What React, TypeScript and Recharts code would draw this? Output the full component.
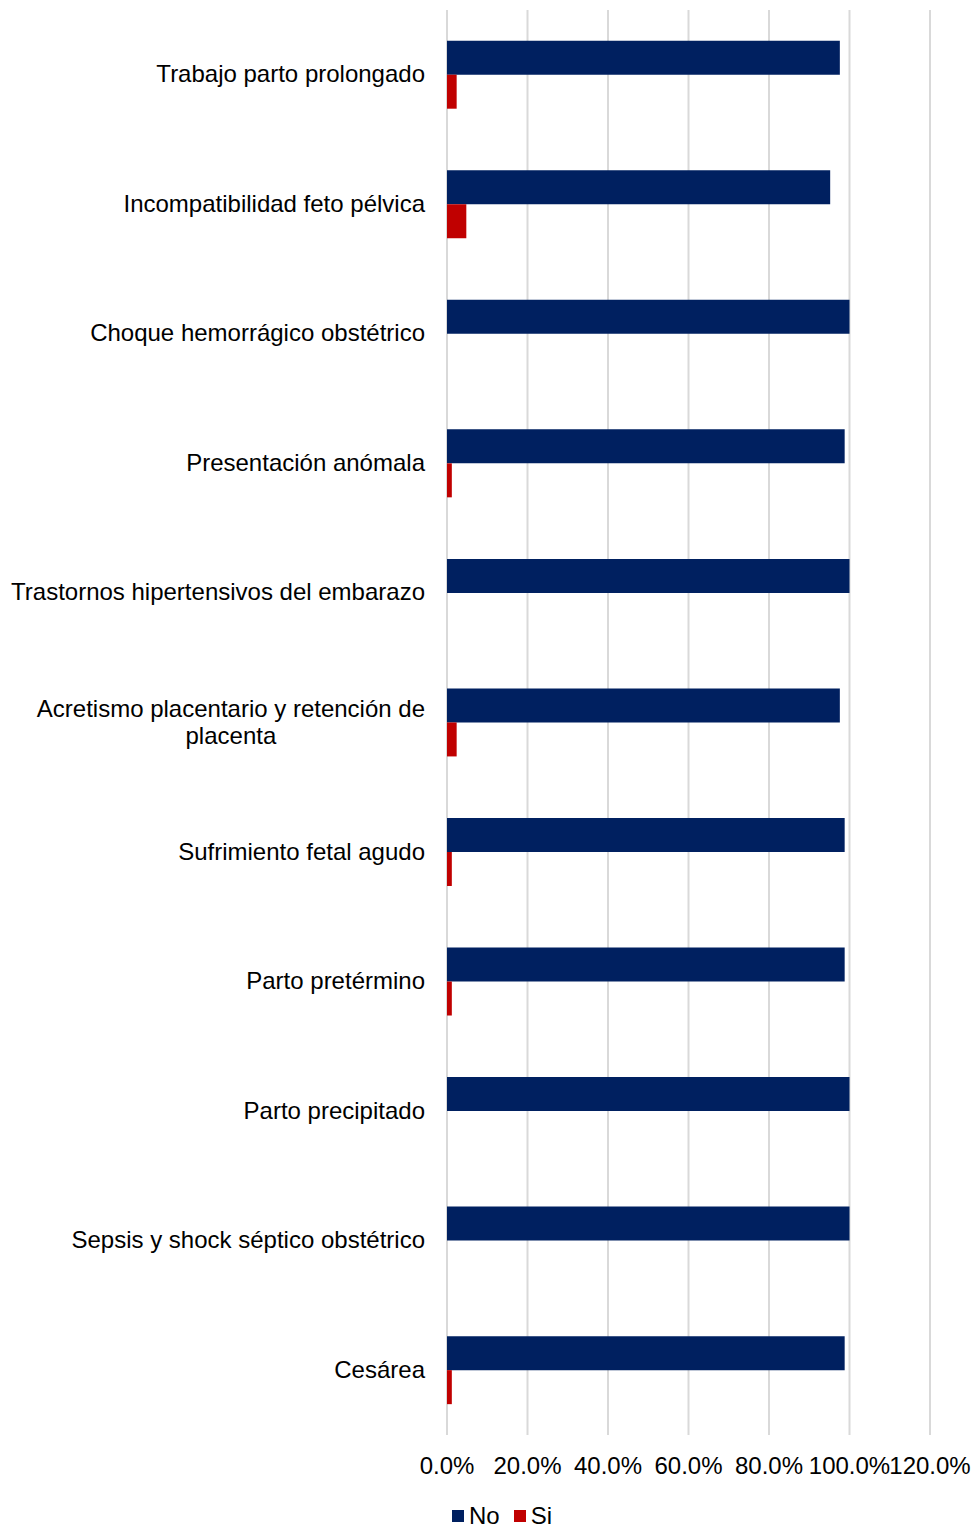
import React from "react";
import {
  BarChart,
  Bar,
  XAxis,
  YAxis,
  CartesianGrid,
  Legend,
} from "recharts";

const categories = [
  "Trabajo parto prolongado",
  "Incompatibilidad feto pélvica",
  "Choque hemorrágico obstétrico",
  "Presentación anómala",
  "Trastornos hipertensivos del embarazo",
  "Acretismo placentario y retención de placenta",
  "Sufrimiento fetal agudo",
  "Parto pretérmino",
  "Parto precipitado",
  "Sepsis y shock séptico obstétrico",
  "Cesárea",
];

const noValues = [0.976, 0.952, 1.0, 0.988, 1.0, 0.976, 0.988, 0.988, 1.0, 1.0, 0.988];
const siValues = [0.024, 0.048, 0.0, 0.012, 0.0, 0.024, 0.012, 0.012, 0.0, 0.0, 0.012];

const xTicks = [0, 0.2, 0.4, 0.6, 0.8, 1.0, 1.2];

const FONT = "'Liberation Sans', Arial, sans-serif";
const FS = 24;
const NAVY = "#002060";
const RED = "#C00000";

const data = categories.map((name, i) => ({
  name,
  No: noValues[i],
  Si: siValues[i],
}));

// wrap long category names the way the spreadsheet does
const MAX_LABEL = 430;
let ctx: CanvasRenderingContext2D | null = null;
const measure = (s: string) => {
  if (!ctx) ctx = document.createElement("canvas").getContext("2d");
  if (!ctx) return s.length * 12;
  ctx.font = `${FS}px ${FONT}`;
  return ctx.measureText(s).width;
};

const wrapLabel = (s: string) => {
  const words = s.split(" ");
  const lines: string[] = [];
  let cur = "";
  words.forEach((w) => {
    const next = cur ? cur + " " + w : w;
    if (measure(next) > MAX_LABEL && cur) {
      lines.push(cur);
      cur = w;
    } else cur = next;
  });
  if (cur) lines.push(cur);
  return lines;
};

const CategoryTick = (props: any) => {
  const { x, y, payload } = props;
  const lines = wrapLabel(payload.value);
  const right = x;
  if (lines.length === 1) {
    return (
      <text x={right} y={y - 1} textAnchor="end" dominantBaseline="central" fontSize={FS} fontFamily={FONT} fill="#000">
        {lines[0]}
      </text>
    );
  }
  const w = Math.max(...lines.map(measure));
  const cx = right - w / 2;
  const lh = 27;
  const top = y - 1 - ((lines.length - 1) * lh) / 2;
  return (
    <text textAnchor="middle" fontSize={FS} fontFamily={FONT} fill="#000">
      {lines.map((l, i) => (
        <tspan key={i} x={cx} y={top + i * lh} dominantBaseline="central">
          {l}
        </tspan>
      ))}
    </text>
  );
};

const renderLegend = () => (
  <div
    style={{
      display: "flex",
      justifyContent: "center",
      alignItems: "center",
      fontFamily: FONT,
      fontSize: FS,
      color: "#000",
      marginLeft: 42,
      paddingTop: 4,
    }}
  >
    {[
      { label: "No", color: NAVY },
      { label: "Si", color: RED },
    ].map((it) => (
      <span key={it.label} style={{ display: "flex", alignItems: "center", marginRight: 14 }}>
        <span style={{ width: 12, height: 12, background: it.color, display: "inline-block", marginRight: 5 }} />
        {it.label}
      </span>
    ))}
  </div>
);

export default function App() {
  return (
    <div style={{ position: "absolute", left: 0, top: 0, background: "#fff" }}>
      <BarChart
        width={976}
        height={1528}
        data={data}
        layout="vertical"
        margin={{ top: 10, right: 46, bottom: 0, left: 0 }}
        barCategoryGap="23.7%"
        barGap={0}
      >
        <CartesianGrid horizontal={false} stroke="#d9d9d9" strokeWidth={2} />
        <XAxis
          type="number"
          domain={[0, 1.2]}
          ticks={xTicks}
          interval={0}
          axisLine={false}
          tickLine={false}
          height={63}
          tickMargin={16}
          tick={{ fontSize: FS, fontFamily: FONT, fill: "#000" }}
          tickFormatter={(v: number) => (v * 100).toFixed(1) + "%"}
        />
        <YAxis
          type="category"
          dataKey="name"
          width={447}
          axisLine={false}
          tickLine={false}
          tickMargin={16}
          interval={0}
          tick={<CategoryTick />}
        />
        <Legend
          verticalAlign="bottom"
          height={30}
          content={renderLegend}
          wrapperStyle={{ left: 0, width: 976 }}
        />
        <Bar dataKey="No" fill={NAVY} isAnimationActive={false} />
        <Bar dataKey="Si" fill={RED} isAnimationActive={false} />
      </BarChart>
    </div>
  );
}
